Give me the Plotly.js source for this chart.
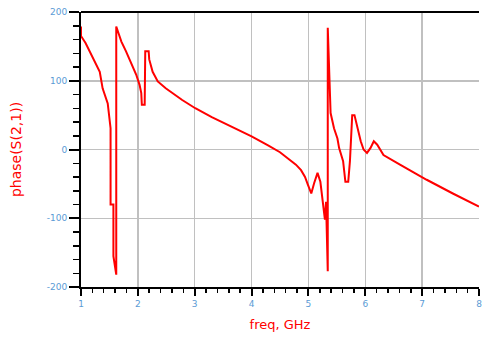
<!DOCTYPE html>
<html>
<head>
<meta charset="utf-8">
<script src="https://cdn.plot.ly/plotly-3.0.1.min.js"></script>
<style>html,body{margin:0;padding:0;background:#fff;}#chart{width:483px;height:345px;}</style>
</head>
<body>
<div id="chart"></div>
<script>
const freq = [1.0, 1.0, 1.08, 1.16, 1.24, 1.33, 1.38, 1.47, 1.52, 1.52, 1.57, 1.57, 1.62, 1.62, 1.66, 1.71, 1.79, 1.88, 1.97, 2.03, 2.06, 2.07, 2.12, 2.13, 2.19, 2.20, 2.26, 2.35, 2.49, 2.78, 3.01, 3.30, 3.65, 4.0, 4.29, 4.50, 4.64, 4.78, 4.87, 4.94, 4.99, 5.05, 5.10, 5.16, 5.21, 5.25, 5.29, 5.31, 5.34, 5.34, 5.37, 5.39, 5.45, 5.51, 5.54, 5.61, 5.65, 5.70, 5.73, 5.77, 5.81, 5.86, 5.92, 5.97, 6.03, 6.09, 6.15, 6.21, 6.32, 6.61, 7.08, 7.54, 8.0];
const phase = [179, 165, 155, 142, 128, 113, 89, 67, 31, -80, -80, -155, -182, 179, 169, 157, 143, 125, 109, 94, 82, 65, 65, 143, 143, 131, 113, 99, 89, 72, 60, 47, 33, 19, 6, -4, -13, -22, -30, -40, -51, -64, -49, -34, -47, -73, -102, -76, -177, 177, 94, 53, 31, 16, 2, -17, -47, -47, -17, 50, 50, 31, 12, 0, -5, 2, 12, 7, -8, -22, -44, -64, -83];
const xTicks = [1, 2, 3, 4, 5, 6, 7, 8];
const yTicks = [-200, -100, 0, 100, 200];

const tickFont = {family: 'DejaVu Sans, Verdana, sans-serif', size: 9, color: '#5b9bd5'};
const xTitleFont = {family: 'DejaVu Sans, Verdana, sans-serif', size: 13, color: '#ff0000'};
const yTitleFont = {family: 'DejaVu Sans, Verdana, sans-serif', size: 14, color: '#ff0000'};

Plotly.newPlot('chart', [{
  x: freq, y: phase, type: 'scatter', mode: 'lines',
  line: {color: '#ff0000', width: 2}, hoverinfo: 'skip'
}], {
  width: 483, height: 345,
  margin: {l: 81, r: 4, t: 12, b: 58},
  paper_bgcolor: '#ffffff', plot_bgcolor: '#ffffff',
  showlegend: false,
  xaxis: {
    range: [1, 8], tickvals: xTicks, ticktext: xTicks.map(String),
    ticks: 'outside', ticklen: 7, tickwidth: 2, tickcolor: '#000',
    ticklabeloverflow: 'allow',
    minor: {dtick: 0.2, ticks: 'outside', ticklen: 4, tickwidth: 1.5, tickcolor: '#000', showgrid: false},
    showline: true, linecolor: '#000', linewidth: 2, mirror: false,
    showgrid: true, gridcolor: '#c0c0c0', gridwidth: 1.5,
    zeroline: false, tickfont: tickFont,
    title: {text: 'freq, GHz', font: xTitleFont, standoff: 12}
  },
  yaxis: {
    range: [-200, 200], tickvals: yTicks, ticktext: yTicks.map(String),
    ticks: 'outside', ticklen: 10, tickwidth: 2, tickcolor: '#000',
    minor: {dtick: 20, ticks: 'outside', ticklen: 6, tickwidth: 1.5, tickcolor: '#000', showgrid: false},
    showline: true, linecolor: '#000', linewidth: 2,
    showgrid: true, gridcolor: '#c0c0c0', gridwidth: 1.5,
    zeroline: false, tickfont: tickFont,
    title: {text: 'phase(S(2,1))', font: yTitleFont, standoff: 22}
  },
  shapes: [{type: 'line', xref: 'paper', yref: 'paper', x0: 0, x1: 1, y0: 1, y1: 1, line: {color: '#000', width: 2}}]
}, {displayModeBar: false, staticPlot: true});
</script>
</body>
</html>
